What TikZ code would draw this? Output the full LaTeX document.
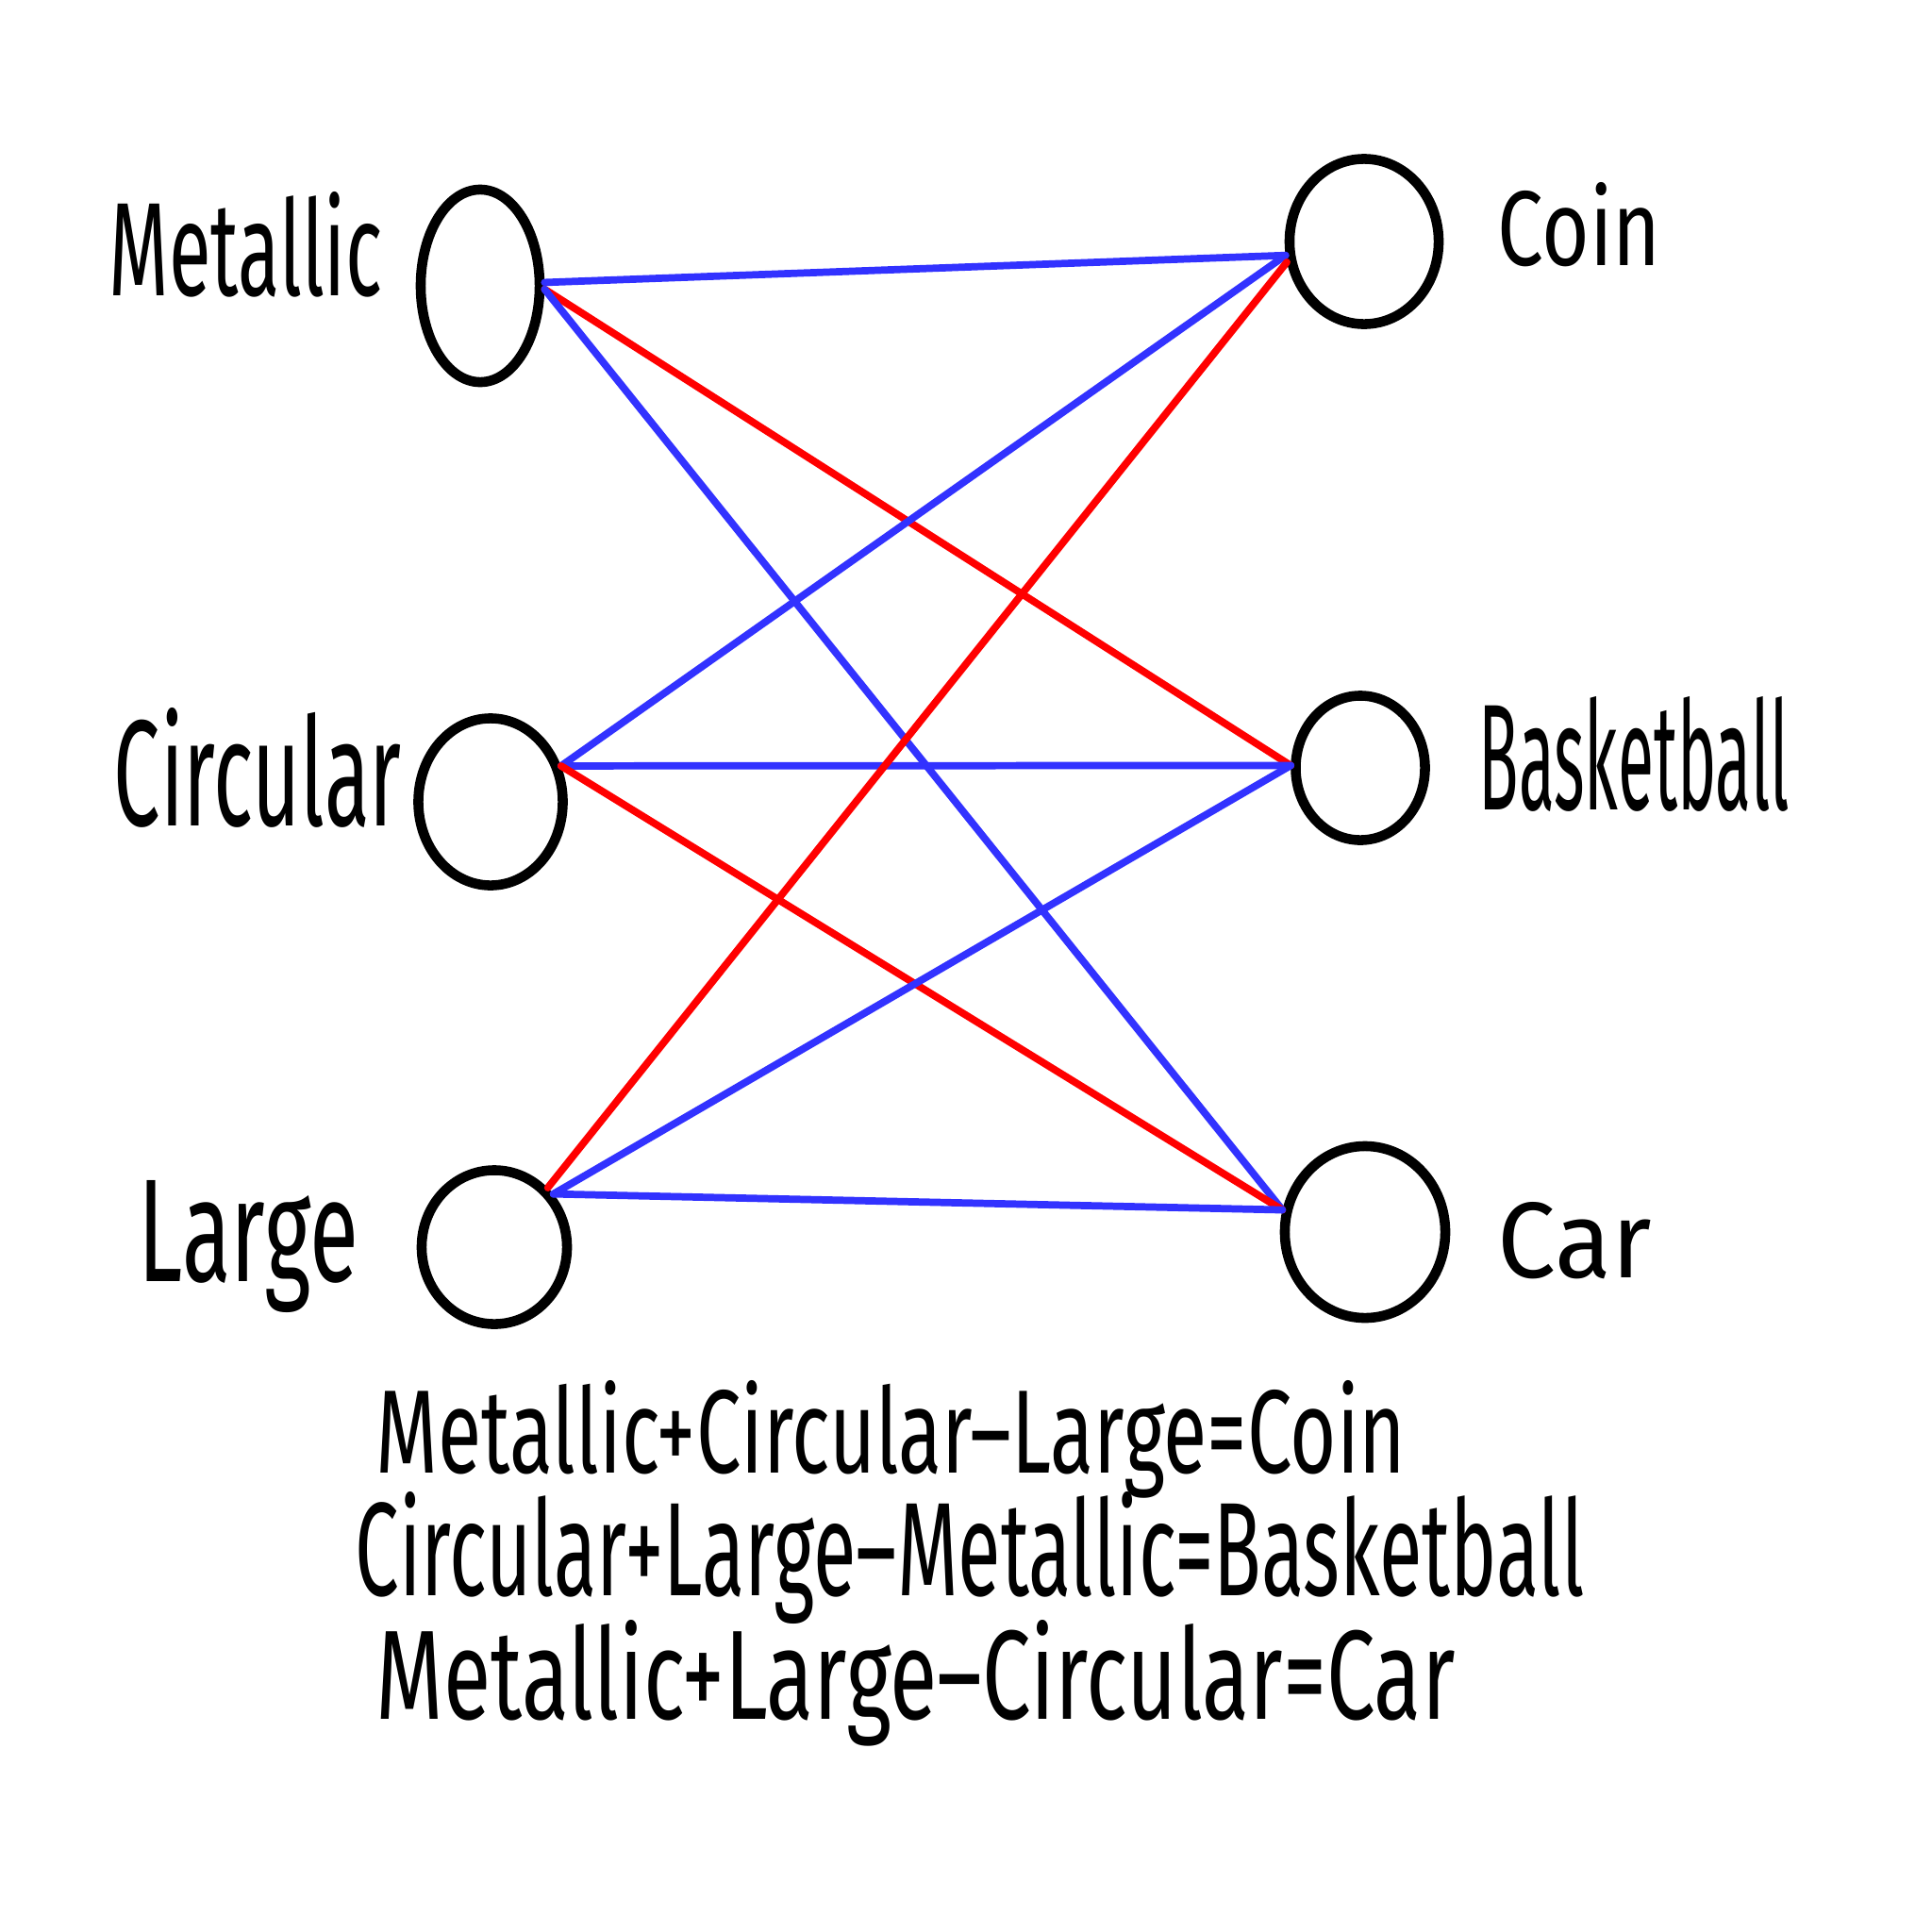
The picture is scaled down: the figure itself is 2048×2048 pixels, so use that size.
\documentclass[tikz,border=0pt]{standalone}
\usepackage{fontspec}
\setmainfont{Fira Sans}
\usetikzlibrary{shapes.geometric}
\newcommand{\hwfit}[3]{\resizebox{#1}{#2}{#3}}
\definecolor{lineblue}{RGB}{50,50,255}
\definecolor{linered}{RGB}{255,0,0}
\tikzset{
  blob/.style={ellipse, draw=black, line width=3pt, inner sep=0pt},
  lbl/.style={anchor=base west, inner sep=0pt, font=\fontsize{30}{36}\selectfont},
  bl/.style={draw=lineblue, line width=2.2pt, line cap=round},
  rd/.style={draw=linered, line width=2.2pt, line cap=round}
}
\begin{document}
\begin{tikzpicture}[x=0.01cm,y=-0.01cm]
\useasboundingbox (0,0) rectangle (2048,2048);
\fill[white] (0,0) rectangle (2048,2048);
% nodes
\node[blob, minimum width=1.26cm, minimum height=2.04cm] (m) at (509,303) {};
\node[blob, minimum width=1.53cm, minimum height=1.77cm] (c) at (520,850) {};
\node[blob, minimum width=1.54cm, minimum height=1.63cm] (l) at (524,1322) {};
\node[blob, minimum width=1.58cm, minimum height=1.75cm] (co) at (1446,256) {};
\node[blob, minimum width=1.37cm, minimum height=1.53cm] (b) at (1442,814) {};
\node[blob, minimum width=1.70cm, minimum height=1.82cm] (ca) at (1447,1306) {};
% labels
\node[lbl] (tm) at (115,313) {\hwfit{2.9cm}{1.1cm}{Metallic}};
\node[lbl] (tc) at (120,875) {\hwfit{3.05cm}{1.25cm}{Circular}};
\node[lbl] (tl) at (146,1358) {\hwfit{2.33cm}{1.07cm}{Large}};
\node[lbl] (tco) at (1587,281) {\hwfit{1.73cm}{0.88cm}{Coin}};
\node[lbl] (tb) at (1567,858) {\hwfit{3.29cm}{1.2cm}{Basketball}};
\node[lbl] (tca) at (1587,1354) {\hwfit{1.63cm}{0.8cm}{Car}};
% connectors
\draw[bl] (m.3) -- (co.190);
\draw[rd] (m.-3) -- (b.178);
\draw[bl] (m.-3) -- (ca.165);
\draw[bl] (c.27) -- (co.190);
\draw[bl] (c.27) -- (b.178);
\draw[rd] (c.27) -- (ca.165);
\draw[rd] (l.48) -- (co.195);
\draw[bl] (l.42) -- (b.178);
\draw[bl] (l.42) -- (ca.165);
% equations
\node[lbl] (e1) at (398,1561) {\hwfit{10.91cm}{0.98cm}{Metallic+Circular–Large=Coin}};
\node[lbl] (e2) at (376,1691) {\hwfit{13.02cm}{1.1cm}{Circular+Large–Metallic=Basketball}};
\node[lbl] (e3) at (398,1822) {\hwfit{11.43cm}{1.05cm}{Metallic+Large–Circular=Car}};
\end{tikzpicture}
\end{document}
